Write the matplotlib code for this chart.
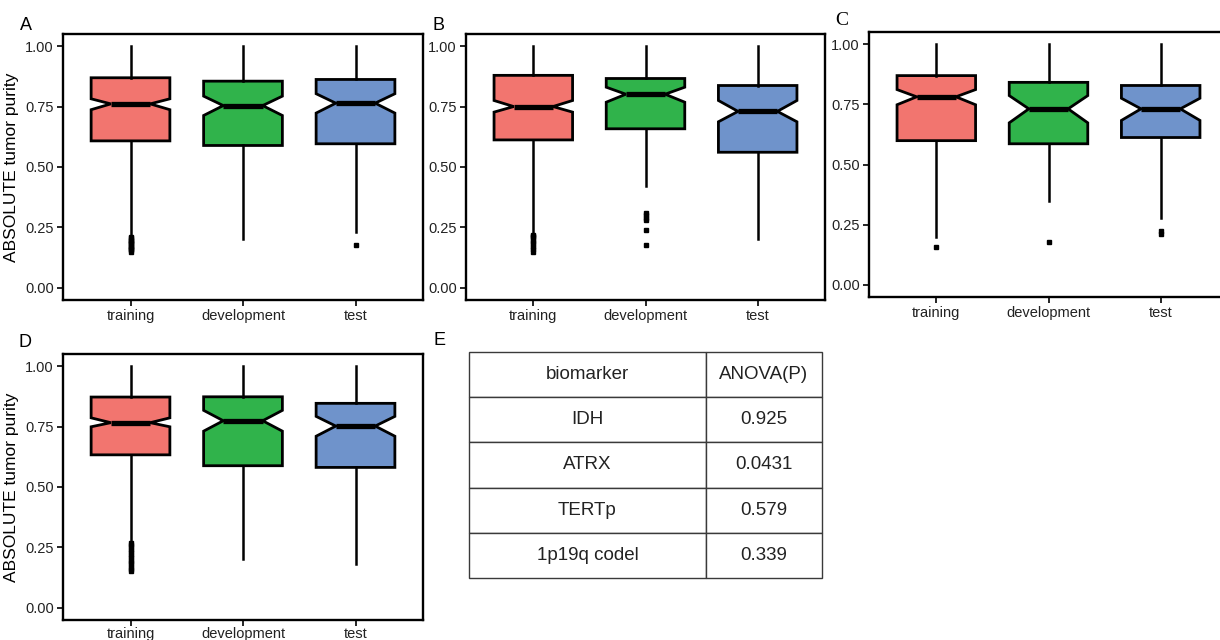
"""Tumor purity boxplots across data splits, plus ANOVA summary table."""

import matplotlib
matplotlib.use("Agg")
import matplotlib.pyplot as plt

plt.rcParams["font.family"] = ["Liberation Sans", "DejaVu Sans"]

groups = ["training", "development", "test"]
colors = ["#F2756F", "#30B34B", "#6F93CB"]

# panel A
a_q1 = [0.608, 0.589, 0.596]
a_med = [0.761, 0.754, 0.764]
a_q3 = [0.869, 0.855, 0.862]
a_cilo = [0.737, 0.713, 0.723]
a_cihi = [0.782, 0.793, 0.803]
a_whislo = [0.221, 0.203, 0.232]
a_whishi = [1.0, 1.0, 1.0]
a_fliers = [[0.21, 0.205, 0.2, 0.195, 0.19, 0.185, 0.18, 0.175, 0.17, 0.165, 0.16, 0.155, 0.15],
            [],
            [0.179]]

# panel B
b_q1 = [0.612, 0.658, 0.561]
b_med = [0.750, 0.801, 0.730]
b_q3 = [0.879, 0.866, 0.837]
b_cilo = [0.727, 0.768, 0.687]
b_cihi = [0.775, 0.830, 0.775]
b_whislo = [0.228, 0.421, 0.203]
b_whishi = [1.0, 1.0, 1.0]
b_fliers = [[0.22, 0.215, 0.21, 0.2, 0.19, 0.18, 0.17, 0.16, 0.15],
            [0.31, 0.30, 0.29, 0.28, 0.24, 0.179],
            []]

# panel C
c_q1 = [0.599, 0.586, 0.612]
c_med = [0.781, 0.731, 0.731]
c_q3 = [0.869, 0.841, 0.828]
c_cilo = [0.748, 0.673, 0.683]
c_cihi = [0.811, 0.786, 0.775]
c_whislo = [0.200, 0.349, 0.280]
c_whishi = [1.0, 1.0, 1.0]
c_fliers = [[0.159], [0.179], [0.222, 0.212]]

# panel D
d_q1 = [0.633, 0.588, 0.581]
d_med = [0.766, 0.774, 0.752]
d_q3 = [0.872, 0.873, 0.846]
d_cilo = [0.749, 0.731, 0.710]
d_cihi = [0.786, 0.817, 0.792]
d_whislo = [0.280, 0.204, 0.183]
d_whishi = [1.0, 1.0, 1.0]
d_fliers = [[0.27, 0.26, 0.25, 0.24, 0.23, 0.22, 0.21, 0.2, 0.19, 0.18, 0.17, 0.16, 0.152],
            [],
            []]

# table E
biomarkers = ["IDH", "ATRX", "TERTp", "1p19q codel"]
anova_p = ["0.925", "0.0431", "0.579", "0.339"]

W, H = 1220, 640


def rect(left, top, right, bottom):
    return [left / W, 1 - bottom / H, (right - left) / W, (bottom - top) / H]


def draw_panel(ax, q1, med, q3, cilo, cihi, whislo, whishi, fliers, ylabel, xpad=2.5):
    stats = []
    for i in range(len(groups)):
        stats.append(dict(q1=q1[i], med=med[i], q3=q3[i], cilo=cilo[i], cihi=cihi[i],
                          whislo=whislo[i], whishi=whishi[i], fliers=fliers[i], label=groups[i]))
    bp = ax.bxp(stats, positions=[1, 2, 3], widths=0.7, shownotches=True, patch_artist=True,
                showcaps=False,
                boxprops=dict(linewidth=2.0, edgecolor="black"),
                whiskerprops=dict(linewidth=1.8, color="black"),
                medianprops=dict(linewidth=3.8, color="black", solid_capstyle="butt"),
                flierprops=dict(marker="s", markersize=3.4, markerfacecolor="black",
                                markeredgecolor="black"))
    for patch, c in zip(bp["boxes"], colors):
        patch.set_facecolor(c)
    ax.set_xlim(0.4, 3.6)
    ax.set_ylim(-0.05, 1.05)
    ax.set_yticks([0, 0.25, 0.5, 0.75, 1.0])
    ax.set_yticklabels(["0.00", "0.25", "0.50", "0.75", "1.00"])
    ax.tick_params(axis="both", direction="out", length=4, width=1.2, labelsize=10.5,
                   labelcolor="#222222", pad=2.5)
    ax.tick_params(axis="x", pad=xpad)
    for s in ax.spines.values():
        s.set_linewidth(1.7)
    if ylabel:
        ax.set_ylabel("ABSOLUTE tumor purity", fontsize=12.5)
        ax.yaxis.set_label_coords(-0.122, 0.5)


fig = plt.figure(figsize=(W / 100, H / 100), dpi=100)

ax_a = fig.add_axes(rect(63, 34, 423, 300))
draw_panel(ax_a, a_q1, a_med, a_q3, a_cilo, a_cihi, a_whislo, a_whishi, a_fliers, True)
ax_b = fig.add_axes(rect(466, 34, 825, 300))
draw_panel(ax_b, b_q1, b_med, b_q3, b_cilo, b_cihi, b_whislo, b_whishi, b_fliers, False)
ax_c = fig.add_axes(rect(869, 32, 1228, 297))
draw_panel(ax_c, c_q1, c_med, c_q3, c_cilo, c_cihi, c_whislo, c_whishi, c_fliers, False)
ax_d = fig.add_axes(rect(63, 354, 423, 620))
draw_panel(ax_d, d_q1, d_med, d_q3, d_cilo, d_cihi, d_whislo, d_whishi, d_fliers, True, xpad=1.0)

# table E
ax_e = fig.add_axes(rect(469, 352, 822, 578))
ax_e.axis("off")
cell_text = [[b, p] for b, p in zip(biomarkers, anova_p)]
tbl = ax_e.table(cellText=cell_text, colLabels=["biomarker", "ANOVA(P)"], cellLoc="center",
                 colWidths=[0.671, 0.329], bbox=[0, 0, 1, 1])
tbl.auto_set_font_size(False)
for cell in tbl.get_celld().values():
    cell.set_edgecolor("#3a3a3a")
    cell.set_linewidth(1.0)
    cell.get_text().set_fontsize(13.5)
    cell.get_text().set_color("#222222")

# panel letters
fig.text(20 / W, 1 - 30 / H, "A", fontsize=13)
fig.text(432 / W, 1 - 30 / H, "B", fontsize=13)
fig.text(835 / W, 1 - 25 / H, "C", fontsize=14, family=["Liberation Serif", "DejaVu Serif"])
fig.text(18 / W, 1 - 347 / H, "D", fontsize=13)
fig.text(433 / W, 1 - 345 / H, "E", fontsize=13)

fig.savefig("out.png", dpi=100)
